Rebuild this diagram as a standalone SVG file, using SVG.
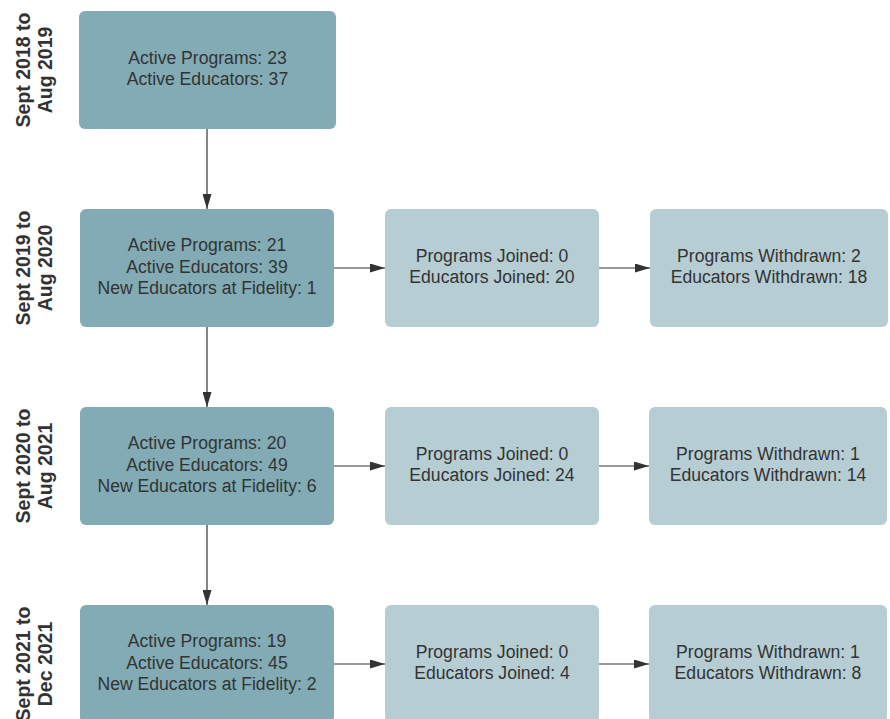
<svg xmlns="http://www.w3.org/2000/svg" width="890" height="719" viewBox="0 0 890 719">
  <defs>
    <marker id="arrow" viewBox="0 0 15 9" refX="15" refY="4.5" markerWidth="15" markerHeight="9" markerUnits="userSpaceOnUse" orient="auto">
      <path d="M0,0 L15,4.5 L0,9 Z" fill="#333333"/>
    </marker>
    <style>
      .dark { fill: #82abb6; }
      .light { fill: #b6cdd4; }
      .txt { font-family: "Liberation Sans", Arial, sans-serif; font-size: 17.6px; fill: #333333; text-anchor: middle; }
      .lbl { font-family: "Liberation Sans", Arial, sans-serif; font-size: 19.5px; font-weight: bold; fill: #333333; text-anchor: middle; }
      .conn { stroke: #333333; stroke-width: 1.2; fill: none; marker-end: url(#arrow); }
    </style>
  </defs>
  <rect width="890" height="719" fill="#ffffff"/>

  <!-- period labels -->
  <g id="label-2018">
    <text class="lbl" transform="translate(30,70) rotate(-90)">Sept 2018 to</text>
    <text class="lbl" transform="translate(52,70) rotate(-90)">Aug 2019</text>
  </g>
  <g id="label-2019">
    <text class="lbl" transform="translate(30,268) rotate(-90)">Sept 2019 to</text>
    <text class="lbl" transform="translate(52,268) rotate(-90)">Aug 2020</text>
  </g>
  <g id="label-2020">
    <text class="lbl" transform="translate(30,466) rotate(-90)">Sept 2020 to</text>
    <text class="lbl" transform="translate(52,466) rotate(-90)">Aug 2021</text>
  </g>
  <g id="label-2021">
    <text class="lbl" transform="translate(30,664) rotate(-90)">Sept 2021 to</text>
    <text class="lbl" transform="translate(52,664) rotate(-90)">Dec 2021</text>
  </g>

  <!-- connectors -->
  <g id="connectors">
    <line class="conn" x1="207" y1="129" x2="207" y2="209"/>
    <line class="conn" x1="207" y1="327" x2="207" y2="407"/>
    <line class="conn" x1="207" y1="525" x2="207" y2="605"/>
    <line class="conn" x1="334" y1="268" x2="385" y2="268"/>
    <line class="conn" x1="599" y1="268" x2="650" y2="268"/>
    <line class="conn" x1="334" y1="466" x2="385" y2="466"/>
    <line class="conn" x1="599" y1="466" x2="649" y2="466"/>
    <line class="conn" x1="334" y1="664" x2="385" y2="664"/>
    <line class="conn" x1="599" y1="664" x2="649" y2="664"/>
  </g>

  <!-- row 1 -->
  <g id="active-2018">
    <rect class="dark" x="79" y="11" width="257" height="118" rx="6"/>
    <text class="txt" x="207.5" y="64">Active Programs: 23</text>
    <text class="txt" x="207.5" y="85">Active Educators: 37</text>
  </g>

  <!-- row 2 -->
  <g id="active-2019">
    <rect class="dark" x="80" y="209" width="254" height="118" rx="6"/>
    <text class="txt" x="207" y="251">Active Programs: 21</text>
    <text class="txt" x="207" y="273">Active Educators: 39</text>
    <text class="txt" x="207" y="294">New Educators at Fidelity: 1</text>
  </g>
  <g id="joined-2019">
    <rect class="light" x="385" y="209" width="214" height="118" rx="6"/>
    <text class="txt" x="492" y="262">Programs Joined: 0</text>
    <text class="txt" x="492" y="283">Educators Joined: 20</text>
  </g>
  <g id="withdrawn-2019">
    <rect class="light" x="650" y="209" width="238" height="118" rx="6"/>
    <text class="txt" x="769" y="262">Programs Withdrawn: 2</text>
    <text class="txt" x="769" y="283">Educators Withdrawn: 18</text>
  </g>

  <!-- row 3 -->
  <g id="active-2020">
    <rect class="dark" x="80" y="407" width="254" height="118" rx="6"/>
    <text class="txt" x="207" y="449">Active Programs: 20</text>
    <text class="txt" x="207" y="471">Active Educators: 49</text>
    <text class="txt" x="207" y="492">New Educators at Fidelity: 6</text>
  </g>
  <g id="joined-2020">
    <rect class="light" x="385" y="407" width="214" height="118" rx="6"/>
    <text class="txt" x="492" y="460">Programs Joined: 0</text>
    <text class="txt" x="492" y="481">Educators Joined: 24</text>
  </g>
  <g id="withdrawn-2020">
    <rect class="light" x="649" y="407" width="238" height="118" rx="6"/>
    <text class="txt" x="768" y="460">Programs Withdrawn: 1</text>
    <text class="txt" x="768" y="481">Educators Withdrawn: 14</text>
  </g>

  <!-- row 4 -->
  <g id="active-2021">
    <rect class="dark" x="80" y="605" width="254" height="118" rx="6"/>
    <text class="txt" x="207" y="647">Active Programs: 19</text>
    <text class="txt" x="207" y="669">Active Educators: 45</text>
    <text class="txt" x="207" y="690">New Educators at Fidelity: 2</text>
  </g>
  <g id="joined-2021">
    <rect class="light" x="385" y="605" width="214" height="118" rx="6"/>
    <text class="txt" x="492" y="658">Programs Joined: 0</text>
    <text class="txt" x="492" y="679">Educators Joined: 4</text>
  </g>
  <g id="withdrawn-2021">
    <rect class="light" x="649" y="605" width="238" height="118" rx="6"/>
    <text class="txt" x="768" y="658">Programs Withdrawn: 1</text>
    <text class="txt" x="768" y="679">Educators Withdrawn: 8</text>
  </g>
</svg>
